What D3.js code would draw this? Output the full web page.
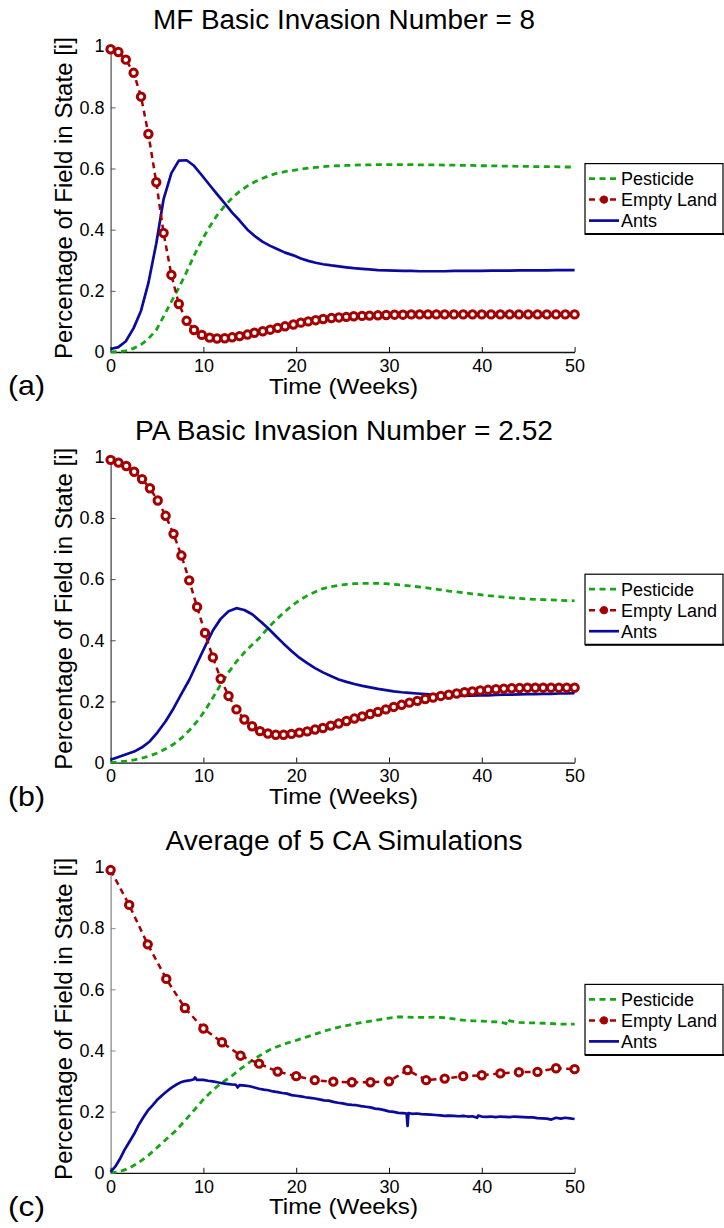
<!DOCTYPE html>
<html>
<head>
<meta charset="utf-8">
<script src="https://cdn.jsdelivr.net/npm/d3@7"></script>
<style>
  html, body { margin: 0; padding: 0; background: #fff; }
  svg { display: block; }
  text { font-family: "Liberation Sans", Arial, Helvetica, sans-serif; fill: #000; }
</style>
</head>
<body>
<svg id="fig" width="724" height="1228"></svg>
<script>
// ---------- shared tick labels ----------
const xTicks = [0, 10, 20, 30, 40, 50];
const yTicks = [0, 0.2, 0.4, 0.6, 0.8, 1];
const seriesNames = ["Pesticide", "Empty Land", "Ants"];

// ---------- (a) mean-field model, R0 = 8 ----------
const timeA = [0, 0.84, 1.64, 2.48, 3.28, 4.07, 4.92, 5.71, 6.55, 7.35, 8.19, 8.99, 9.83, 10.67, 11.47,
  12.3, 13.1, 13.9, 14.75, 15.5, 16.4, 17.2, 18.0, 18.8, 19.7, 20.5, 21.3, 22.1, 22.9, 23.8, 24.6,
  25.4, 26.2, 27.1, 27.9, 28.8, 29.7, 30.6, 31.5, 32.4, 33.3, 34.2, 35.1, 36.0, 37.0, 38.0, 39.0,
  40.0, 41.0, 42.0, 43.0, 44.0, 45.0, 46.0, 47.0, 48.0, 49.0, 50.0];
const pesticideA = [0, 0.001, 0.004, 0.012, 0.024, 0.043, 0.072, 0.116, 0.165, 0.21, 0.262, 0.315, 0.365, 0.41, 0.447,
  0.478, 0.504, 0.525, 0.543, 0.556, 0.568, 0.578, 0.585, 0.590, 0.594, 0.598, 0.601, 0.604, 0.606, 0.608, 0.609,
  0.610, 0.611, 0.612, 0.612, 0.613, 0.613, 0.613, 0.613, 0.613, 0.612, 0.612, 0.612, 0.611, 0.611, 0.610, 0.610,
  0.609, 0.609, 0.608, 0.608, 0.607, 0.607, 0.606, 0.606, 0.606, 0.605, 0.605];
const emptyA = [0.99, 0.981, 0.956, 0.913, 0.835, 0.713, 0.555, 0.389, 0.252, 0.157, 0.102, 0.072, 0.056, 0.047, 0.044,
  0.045, 0.048, 0.052, 0.057, 0.063, 0.068, 0.073, 0.079, 0.084, 0.090, 0.096, 0.100, 0.104, 0.108, 0.111, 0.113,
  0.115, 0.117, 0.118, 0.119, 0.120, 0.121, 0.122, 0.122, 0.123, 0.123, 0.123, 0.123, 0.123, 0.123, 0.123, 0.123,
  0.123, 0.123, 0.123, 0.123, 0.123, 0.123, 0.123, 0.123, 0.123, 0.123, 0.123];
const antsA = [0.01, 0.016, 0.035, 0.078, 0.135, 0.225, 0.355, 0.50, 0.585, 0.626, 0.627, 0.609, 0.578, 0.546, 0.516,
  0.486, 0.456, 0.43, 0.40, 0.38, 0.36, 0.347, 0.336, 0.325, 0.316, 0.306, 0.298, 0.292, 0.287, 0.283, 0.280,
  0.277, 0.274, 0.272, 0.270, 0.268, 0.267, 0.266, 0.265, 0.265, 0.264, 0.264, 0.264, 0.264, 0.265, 0.265, 0.265,
  0.265, 0.266, 0.266, 0.266, 0.267, 0.267, 0.267, 0.267, 0.268, 0.268, 0.268];

// ---------- (b) pair-approximation model, R0 = 2.52 ----------
const timeB = [0, 0.85, 1.69, 2.54, 3.39, 4.24, 5.08, 5.93, 6.78, 7.63, 8.47, 9.32, 10.17, 11.02, 11.86,
  12.71, 13.56, 14.41, 15.25, 16.10, 16.95, 17.80, 18.64, 19.49, 20.34, 21.19, 22.03, 22.88, 23.73, 24.58,
  25.42, 26.27, 27.12, 27.97, 28.81, 29.66, 30.51, 31.36, 32.20, 33.05, 33.90, 34.75, 35.59, 36.44, 37.29,
  38.14, 38.98, 39.83, 40.68, 41.53, 42.37, 43.22, 44.07, 44.92, 45.76, 46.61, 47.46, 48.31, 49.15, 50.0];
const pesticideB = [0, 0.002, 0.005, 0.009, 0.015, 0.022, 0.032, 0.045, 0.06, 0.08, 0.105, 0.135, 0.17, 0.212, 0.255,
  0.295, 0.33, 0.36, 0.385, 0.41, 0.44, 0.466, 0.49, 0.512, 0.531, 0.546, 0.558, 0.569, 0.575, 0.580,
  0.583, 0.585, 0.586, 0.586, 0.586, 0.585, 0.583, 0.581, 0.578, 0.575, 0.572, 0.568, 0.565, 0.561, 0.558,
  0.555, 0.552, 0.549, 0.546, 0.544, 0.541, 0.539, 0.537, 0.535, 0.534, 0.533, 0.532, 0.531, 0.530, 0.529];
const emptyB = [0.990, 0.981, 0.970, 0.951, 0.927, 0.897, 0.857, 0.807, 0.748, 0.677, 0.596, 0.509, 0.424, 0.344, 0.274,
  0.218, 0.174, 0.141, 0.119, 0.103, 0.095, 0.091, 0.091, 0.094, 0.098, 0.102, 0.108, 0.113, 0.121, 0.128,
  0.136, 0.144, 0.151, 0.159, 0.166, 0.174, 0.182, 0.189, 0.196, 0.202, 0.208, 0.213, 0.218, 0.222, 0.226,
  0.230, 0.233, 0.236, 0.238, 0.240, 0.242, 0.243, 0.244, 0.245, 0.245, 0.245, 0.245, 0.245, 0.245, 0.245];
const antsB = [0.009, 0.018, 0.027, 0.036, 0.050, 0.070, 0.100, 0.135, 0.177, 0.225, 0.27, 0.325, 0.379, 0.432, 0.47,
  0.495, 0.505, 0.499, 0.485, 0.463, 0.44, 0.414, 0.389, 0.365, 0.343, 0.325, 0.309, 0.295, 0.283, 0.272,
  0.264, 0.257, 0.251, 0.246, 0.241, 0.237, 0.233, 0.230, 0.228, 0.226, 0.224, 0.222, 0.221, 0.220, 0.219,
  0.219, 0.219, 0.220, 0.220, 0.221, 0.222, 0.222, 0.223, 0.224, 0.224, 0.225, 0.225, 0.226, 0.226, 0.227];

// ---------- (c) cellular automaton, mean of 5 runs ----------
const timeCPest = [0, 1, 2, 3, 4, 5, 6, 7, 8, 9, 10, 11, 12, 13, 14, 15, 16, 17, 18, 19, 20, 21, 22, 23, 24, 25,
  26, 27, 28, 29, 30, 31, 32, 33, 34, 35, 36, 37, 38, 39, 40, 41, 42, 42.6, 42.8, 43, 44, 45, 46, 47, 48, 49, 50];
const pesticideC = [0, 0.004, 0.015, 0.033, 0.055, 0.082, 0.11, 0.137, 0.17, 0.205, 0.24, 0.27, 0.295, 0.315, 0.34,
  0.362, 0.382, 0.40, 0.413, 0.424, 0.433, 0.443, 0.453, 0.463, 0.472, 0.479, 0.485, 0.491, 0.496, 0.501, 0.506,
  0.51, 0.509, 0.508, 0.508, 0.509, 0.507, 0.503, 0.499, 0.497, 0.496, 0.494, 0.493, 0.488, 0.503, 0.497, 0.492,
  0.490, 0.490, 0.489, 0.487, 0.486, 0.486];
const timeCEmpty = [0, 2, 4, 6, 8, 10, 12, 14, 16, 18, 20, 22, 24, 26, 28, 30, 32, 34, 36, 38, 40, 42, 44, 46, 48, 50];
const emptyC = [0.99, 0.876, 0.747, 0.634, 0.539, 0.472, 0.427, 0.383, 0.357, 0.331, 0.316, 0.303, 0.298, 0.296,
  0.296, 0.299, 0.336, 0.303, 0.308, 0.316, 0.319, 0.325, 0.329, 0.330, 0.342, 0.339];
const timeCAnts = [0, 0.5, 1, 1.5, 2, 2.5, 3, 3.5, 4, 4.5, 5, 5.5, 6, 6.5, 7, 7.5, 8, 8.5, 9, 9.1, 9.3, 10,
  10.5, 11, 11.5, 12, 12.5, 13, 13.5, 13.7, 13.9, 14.5, 15, 15.5, 16, 16.5, 17, 17.5, 18, 18.5, 19, 19.5,
  20, 20.5, 21, 21.5, 22, 22.5, 23, 23.5, 24, 24.5, 25, 25.5, 26, 26.5, 27, 27.5, 28, 28.5, 29, 29.5,
  30, 30.5, 31, 31.5, 31.9, 32.0, 32.1, 32.5, 33, 33.5, 34, 34.5, 35, 35.5, 36, 36.5, 37, 37.5, 38, 38.5,
  39, 39.5, 39.6, 40, 40.5, 41, 41.5, 42, 42.5, 43, 43.5, 44, 44.5, 45, 45.5, 46, 46.5, 47, 47.5, 48,
  48.5, 49, 49.5, 50];
const antsC = [0.003, 0.02, 0.045, 0.075, 0.10, 0.125, 0.155, 0.18, 0.203, 0.22, 0.238, 0.252, 0.265, 0.277, 0.287,
  0.295, 0.300, 0.302, 0.306, 0.312, 0.304, 0.304,
  0.301, 0.299, 0.296, 0.293, 0.291, 0.289, 0.288, 0.279, 0.287, 0.285, 0.283, 0.279, 0.275, 0.272, 0.270, 0.266,
  0.264, 0.261, 0.259, 0.254,
  0.252, 0.250, 0.247, 0.245, 0.243, 0.240, 0.237, 0.236, 0.232, 0.229, 0.227, 0.224, 0.222, 0.221, 0.218, 0.216,
  0.214, 0.210, 0.208, 0.205,
  0.201, 0.199, 0.196, 0.195, 0.194, 0.153, 0.195, 0.193, 0.194, 0.192, 0.191, 0.190, 0.189, 0.188, 0.186, 0.187,
  0.186, 0.185, 0.186, 0.184,
  0.185, 0.180, 0.187, 0.184, 0.183, 0.184, 0.182, 0.184, 0.183, 0.182, 0.184, 0.183, 0.182, 0.181, 0.181, 0.179,
  0.178, 0.177, 0.174, 0.180,
  0.177, 0.180, 0.178, 0.176];

// ---------- panel descriptions built from the arrays above ----------
const panels = [
  { tag: "(a)", title: "MF Basic Invasion Number = 8", titleW: 382, bottom: 352,
    pest: [timeA, pesticideA], empty: [timeA, emptyA], ants: [timeA, antsA], axisGrey: "#5a5a5a" },
  { tag: "(b)", title: "PA Basic Invasion Number = 2.52", titleW: 418, bottom: 762.6,
    pest: [timeB, pesticideB], empty: [timeB, emptyB], ants: [timeB, antsB], axisGrey: "#4a4a4a" },
  { tag: "(c)", title: "Average of 5 CA Simulations", titleW: 357, bottom: 1172.8,
    pest: [timeCPest, pesticideC], empty: [timeCEmpty, emptyC], ants: [timeCAnts, antsC], axisGrey: "#8a8a8a" }
];

const colors = { pest: "#14a614", empty: "#a50000", ants: "#0a0a9e" };
const plotH = 305.8;
const x = d3.scaleLinear().domain([0, 50]).range([110.6, 574.6]);
const svg = d3.select("#fig");

const zip = (t, v) => t.map((ti, i) => [ti, v[i]]);

panels.forEach(p => {
  const y = d3.scaleLinear().domain([0, 1]).range([p.bottom, p.bottom - plotH]);
  const g = svg.append("g");
  const line = d3.line().x(d => x(d[0])).y(d => y(d[1]));

  // title
  g.append("text")
    .attr("x", 344).attr("y", p.bottom - 322.7)
    .attr("text-anchor", "middle").attr("font-size", 27)
    .attr("textLength", p.titleW).attr("lengthAdjust", "spacingAndGlyphs")
    .text(p.title);

  // y axis (ticks pointing into the plot)
  const ya = g.append("g").attr("transform", `translate(${x(0)},0)`)
    .call(d3.axisLeft(y).tickValues(yTicks).tickFormat(d => String(d))
      .tickSizeInner(-5).tickSizeOuter(0).tickPadding(6));
  ya.select(".domain").attr("stroke", p.axisGrey).attr("stroke-width", 1.3);
  ya.selectAll(".tick line").attr("stroke", p.axisGrey);
  ya.selectAll("text").attr("font-size", 18).attr("font-family", null);

  // x axis
  const xa = g.append("g").attr("transform", `translate(0,${p.bottom})`)
    .call(d3.axisBottom(x).tickValues(xTicks).tickSizeInner(-5).tickSizeOuter(0).tickPadding(7));
  xa.select(".domain").attr("stroke", "#111").attr("stroke-width", 1.3);
  xa.selectAll(".tick line").attr("stroke", "#111");
  xa.selectAll("text").attr("font-size", 18).attr("font-family", null);

  // axis titles
  g.append("text")
    .attr("transform", `translate(72,${p.bottom - plotH / 2 - 1}) rotate(-90)`)
    .attr("text-anchor", "middle").attr("font-size", 23.5)
    .attr("textLength", 322).attr("lengthAdjust", "spacingAndGlyphs")
    .text("Percentage of Field in State [i]");
  g.append("text")
    .attr("x", 343.5).attr("y", p.bottom + 41.5)
    .attr("text-anchor", "middle").attr("font-size", 22.5)
    .attr("textLength", 149).attr("lengthAdjust", "spacingAndGlyphs")
    .text("Time (Weeks)");

  // panel tag
  g.append("text")
    .attr("x", 8).attr("y", p.bottom + 43)
    .attr("font-family", "'Liberation Serif', 'Times New Roman', serif")
    .attr("font-size", 28)
    .attr("textLength", 37).attr("lengthAdjust", "spacingAndGlyphs")
    .text(p.tag);

  // curves
  const pestData = zip(...p.pest), emptyData = zip(...p.empty), antsData = zip(...p.ants);
  g.append("path").datum(pestData).attr("d", line)
    .attr("fill", "none").attr("stroke", colors.pest).attr("stroke-width", 2.8)
    .attr("stroke-dasharray", "6,4.5");
  g.append("path").datum(antsData).attr("d", line)
    .attr("fill", "none").attr("stroke", colors.ants).attr("stroke-width", 2.7)
    .attr("stroke-linejoin", "round");
  g.append("path").datum(emptyData).attr("d", line)
    .attr("fill", "none").attr("stroke", colors.empty).attr("stroke-width", 2.5)
    .attr("stroke-dasharray", "6,4.5");
  g.selectAll("circle.m").data(emptyData).join("circle")
    .attr("class", "m")
    .attr("cx", d => x(d[0])).attr("cy", d => y(d[1])).attr("r", 3.7)
    .attr("fill", "#fff").attr("stroke", colors.empty).attr("stroke-width", 3);

  // legend
  const top = p.bottom - 188.4;
  const lg = g.append("g");
  lg.append("rect").attr("x", 585).attr("y", top).attr("width", 138).attr("height", 70.5)
    .attr("fill", "#fff").attr("stroke", "#000").attr("stroke-width", 1.2);
  lg.append("line").attr("x1", 585).attr("x2", 724).attr("y1", top + 70.5).attr("y2", top + 70.5)
    .attr("stroke", "#000").attr("stroke-width", 2);
  const rows = [
    { key: "pest", dash: "6,4.5", w: 2.8 },
    { key: "empty", dash: "6,4.5", w: 2.5, marker: true },
    { key: "ants", dash: null, w: 2.7 }
  ];
  rows.forEach((r, i) => {
    const cy = top + 15 + i * 21;
    lg.append("line").attr("x1", 589).attr("x2", 619).attr("y1", cy).attr("y2", cy)
      .attr("stroke", colors[r.key]).attr("stroke-width", r.w)
      .attr("stroke-dasharray", r.dash);
    if (r.marker) {
      lg.append("circle").attr("cx", 604).attr("cy", cy).attr("r", 3.7)
        .attr("fill", colors.empty).attr("stroke", colors.empty).attr("stroke-width", 1);
    }
    lg.append("text").attr("x", 621).attr("y", cy + 6.5).attr("font-size", 18)
      .text(seriesNames[i]);
  });
});
</script>
</body>
</html>
